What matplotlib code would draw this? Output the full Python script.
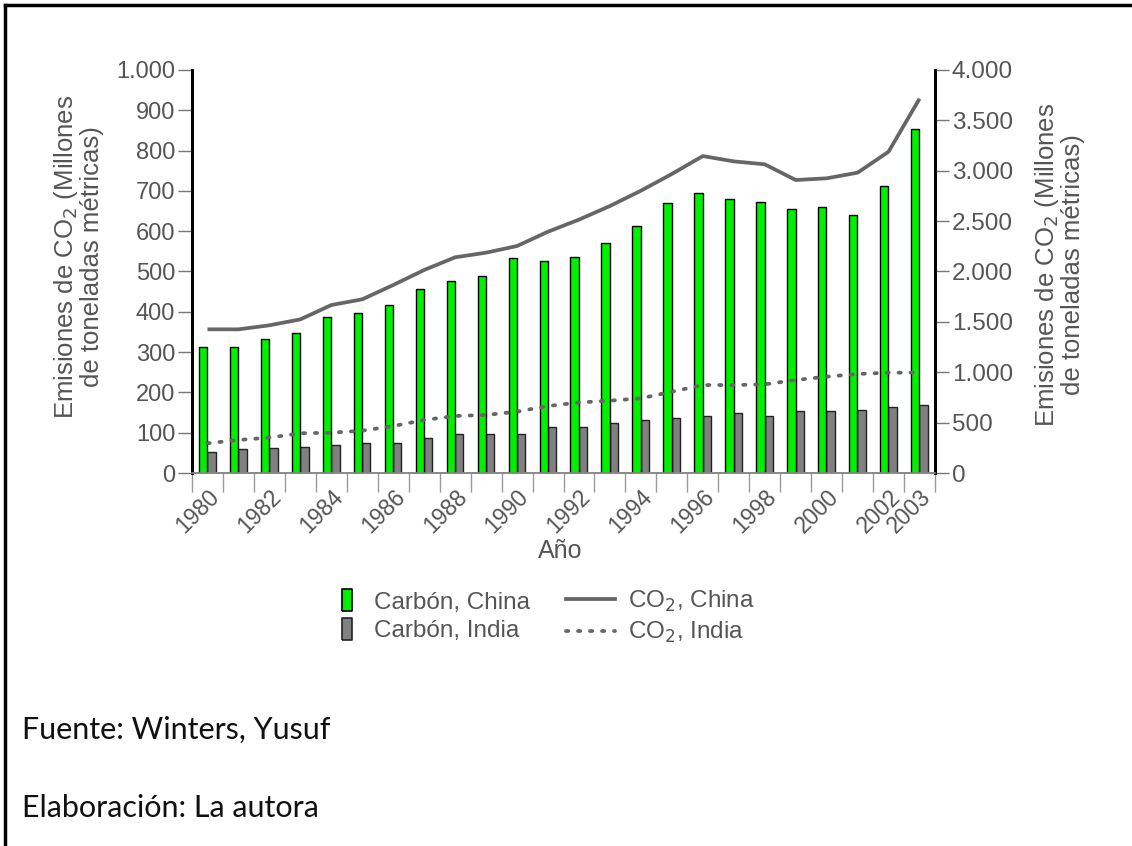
import numpy as np
import matplotlib.pyplot as plt
from matplotlib.lines import Line2D
from matplotlib.transforms import ScaledTranslation

years = list(range(1980, 2004))

# carbon, millions of metric tons (left axis)
carbon_china = [313, 313, 333, 348, 386, 398, 418, 456, 476, 490, 534, 526,
                537, 571, 613, 671, 694, 679, 673, 656, 659, 639, 711, 854]
carbon_india = [52, 59, 61, 64, 69, 75, 75, 87, 96, 96, 98, 115,
                113, 125, 131, 136, 142, 148, 142, 154, 154, 156, 163, 168]

# CO2, millions of metric tons (right axis)
co2_china = [1426, 1426, 1466, 1525, 1667, 1724, 1866, 2015, 2141, 2187, 2253, 2395,
             2515, 2650, 2802, 2968, 3146, 3093, 3064, 2908, 2925, 2981, 3189, 3715]
co2_india = [295, 328, 351, 394, 400, 420, 466, 526, 566, 576, 609, 665,
             700, 718, 741, 807, 873, 873, 880, 923, 956, 983, 996, 996]

label_years = [1980, 1982, 1984, 1986, 1988, 1990, 1992, 1994, 1996, 1998, 2000, 2002, 2003]
left_ticks = [0, 100, 200, 300, 400, 500, 600, 700, 800, 900, 1000]
left_labels = ['0', '100', '200', '300', '400', '500', '600', '700', '800', '900', '1.000']
right_ticks = [0, 500, 1000, 1500, 2000, 2500, 3000, 3500, 4000]
right_labels = ['0', '500', '1.000', '1.500', '2.000', '2.500', '3.000', '3.500', '4.000']

plt.rcParams['font.family'] = ['Liberation Sans', 'DejaVu Sans']
txt = '#555555'
green = '#00f000'
line_col = '#666666'
dots = (0, (0.6, 2.6))

fig = plt.figure(figsize=(11.32, 8.46), dpi=100)
ax = fig.add_axes([192 / 1132, 1 - 473 / 846, (935 - 192) / 1132, (473 - 70) / 846])
ax2 = ax.twinx()

x = np.arange(len(years))
w = 0.27
ax.bar(x - 0.14, carbon_china, w, color=green, edgecolor='black', linewidth=1, zorder=3)
ax.bar(x + 0.13, carbon_india, w, color='#808080', edgecolor='#222222', linewidth=1, zorder=2)

ax2.plot(x, co2_china, color=line_col, lw=2.7, solid_capstyle='butt')
ax2.plot(x, co2_india, color=line_col, lw=2.7, linestyle=dots, dash_capstyle='round')

ax.set_xlim(-0.5, len(years) - 0.5)
ax.set_ylim(0, 1000)
ax2.set_ylim(0, 4000)

ax.set_yticks(left_ticks)
ax.set_yticklabels(left_labels)
ax2.set_yticks(right_ticks)
ax2.set_yticklabels(right_labels)

pos = [years.index(y) for y in label_years]
ax.set_xticks(pos)
ax.set_xticklabels([str(y) for y in label_years], rotation=45, ha='right',
                   rotation_mode='anchor')
off = ScaledTranslation(10 / 100, 0, fig.dpi_scale_trans)
for lab in ax.get_xticklabels():
    lab.set_transform(lab.get_transform() + off)
ax.set_xticks(np.arange(len(years) + 1) - 0.5, minor=True)
ax.tick_params(axis='x', which='major', length=0, pad=9, labelsize=16.5, labelcolor=txt)
ax.tick_params(axis='x', which='minor', length=14, width=1, color='#999999', direction='out')
ax.tick_params(axis='y', length=10, width=1, color='#777777', labelsize=17,
               labelcolor=txt, pad=2)
ax2.tick_params(axis='y', length=10, width=1, color='#777777', labelsize=17.5,
                labelcolor=txt, pad=2)

for a in (ax, ax2):
    a.spines['top'].set_visible(False)
    a.spines['left'].set_linewidth(2)
    a.spines['right'].set_linewidth(2)
    a.spines['bottom'].set_color('#888888')
    a.spines['bottom'].set_linewidth(1.2)

ylab = 'Emisiones de CO$_2$ (Millones\nde toneladas métricas)'
ax.set_ylabel(ylab, fontsize=18.5, color=txt, linespacing=1.0)
ax.yaxis.label.set_va('center')
ax.yaxis.set_label_coords(-0.153, 0.536)
ax2.set_ylabel(ylab, fontsize=18.5, color=txt, linespacing=1.0, rotation=90)
ax2.yaxis.label.set_va('center')
ax2.yaxis.set_label_coords(1.167, 0.516)
ax.set_xlabel('Año', fontsize=18, color=txt)
ax.xaxis.label.set_va('center')
ax.xaxis.set_label_coords((560 - 192) / 743, (473 - 551) / 403)

bar_marker = [(-0.45, -1), (0.45, -1), (0.45, 1), (-0.45, 1), (-0.45, -1)]
bar_handles = [
    Line2D([], [], ls='none', marker=bar_marker, markersize=16,
           markerfacecolor=green, markeredgecolor='black', markeredgewidth=1.2),
    Line2D([], [], ls='none', marker=bar_marker, markersize=16,
           markerfacecolor='#808080', markeredgecolor='#222222', markeredgewidth=1.2),
]
line_handles = [
    Line2D([], [], color=line_col, lw=2.7),
    Line2D([], [], color=line_col, lw=2.7, linestyle=dots, dash_capstyle='round'),
]
leg_kw = dict(loc='center left', frameon=False, fontsize=17.5, borderpad=0,
              borderaxespad=0, labelspacing=0.25, labelcolor=txt)
leg1 = fig.legend(bar_handles, ['Carbón, China', 'Carbón, India'],
                  bbox_to_anchor=(335 / 1132, 1 - 617 / 846), handlelength=1.0,
                  handletextpad=0.6, **leg_kw)
leg2 = fig.legend(line_handles, ['CO$_2$, China', 'CO$_2$, India'],
                  bbox_to_anchor=(566 / 1132, 1 - 617 / 846), handlelength=2.0,
                  handletextpad=0.55, **leg_kw)

fig.text(22 / 1132, 1 - 730 / 846, 'Fuente: Winters, Yusuf', fontsize=22,
         family='Lato', va='center', color='#111111')
fig.text(22 / 1132, 1 - 808 / 846, 'Elaboración: La autora', fontsize=22,
         family='Lato', va='center', color='#111111')

# page frame (top and left edges)
fig.add_artist(Line2D([5 / 1132, 1], [1 - 5 / 846, 1 - 5 / 846], color='black', lw=2.5,
                      transform=fig.transFigure))
fig.add_artist(Line2D([5 / 1132, 5 / 1132], [0, 1 - 5 / 846], color='black', lw=2.5,
                      transform=fig.transFigure))

fig.savefig('out.png', dpi=100)
